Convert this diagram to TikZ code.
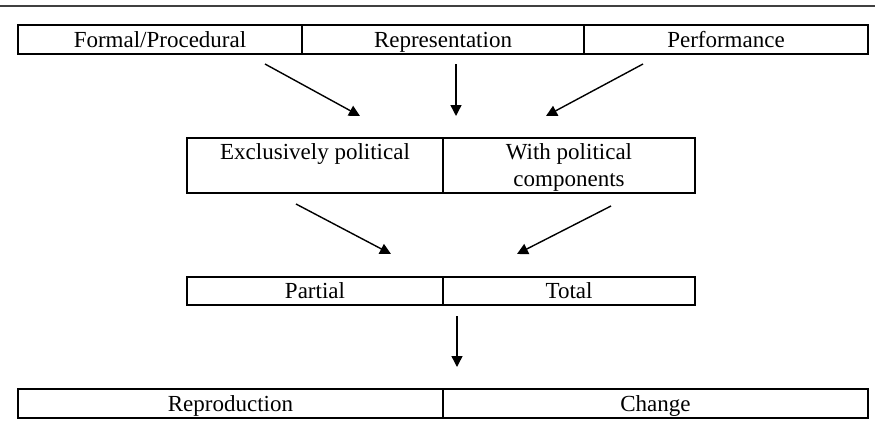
\documentclass[tikz,border=0pt]{standalone}
\usepackage{fontspec}
\setmainfont{Liberation Serif}
\usetikzlibrary{arrows.meta}
\newcommand{\cs}{\rule[-6pt]{0pt}{27pt}}
\begin{document}
\begin{tikzpicture}[x=1pt,y=-1pt,
  cell/.style={draw=black,line width=1.5pt,rectangle,inner sep=0pt,outer sep=0pt,
    font=\fontsize{23}{27}\selectfont,align=center},
  arr/.style={line width=1.4pt,-{Triangle[length=11pt,width=11pt]}}]
\useasboundingbox (0,0) rectangle (875,431);
\draw[line width=1.6pt,black!75] (0,6) -- (875,6);
% row 1
\node[cell,minimum width=284pt,minimum height=29pt] (fp) at (160,39.5) {\cs Formal/Procedural};
\node[cell,minimum width=282pt,minimum height=29pt] (rep) at (443,39.5) {\cs Representation};
\node[cell,minimum width=284pt,minimum height=29pt] (perf) at (726,39.5) {\cs Performance};
% row 2
\node[cell,minimum width=256pt,minimum height=55pt] (excl) at (315,165.5) {\cs Exclusively political\\ \cs};
\node[cell,minimum width=252pt,minimum height=55pt] (with) at (569,165.5) {\cs With political\\ \cs components};
% row 3
\node[cell,minimum width=256pt,minimum height=28pt] (part) at (315,291) {\cs Partial};
\node[cell,minimum width=252pt,minimum height=28pt] (tot) at (569,291) {\cs Total};
% row 4
\node[cell,minimum width=425pt,minimum height=29pt] (repro) at (230.5,403.5) {\cs Reproduction};
\node[cell,minimum width=425pt,minimum height=29pt] (chg) at (655.5,403.5) {\cs Change};
% arrow ends
\coordinate (a1s) at (265,64);  \coordinate (a1e) at (360,116);
\coordinate (a2s) at (456,64);  \coordinate (a2e) at (456,116);
\coordinate (a3s) at (643,64);  \coordinate (a3e) at (546,116);
\coordinate (b1s) at (296,204); \coordinate (b1e) at (391,254);
\coordinate (b2s) at (611,206); \coordinate (b2e) at (517,254);
\coordinate (c1s) at (457,316); \coordinate (c1e) at (457,367);
\draw[arr] (a1s) -- (a1e);
\draw[arr] (a2s) -- (a2e);
\draw[arr] (a3s) -- (a3e);
\draw[arr] (b1s) -- (b1e);
\draw[arr] (b2s) -- (b2e);
\draw[arr] (c1s) -- (c1e);
\end{tikzpicture}
\end{document}
